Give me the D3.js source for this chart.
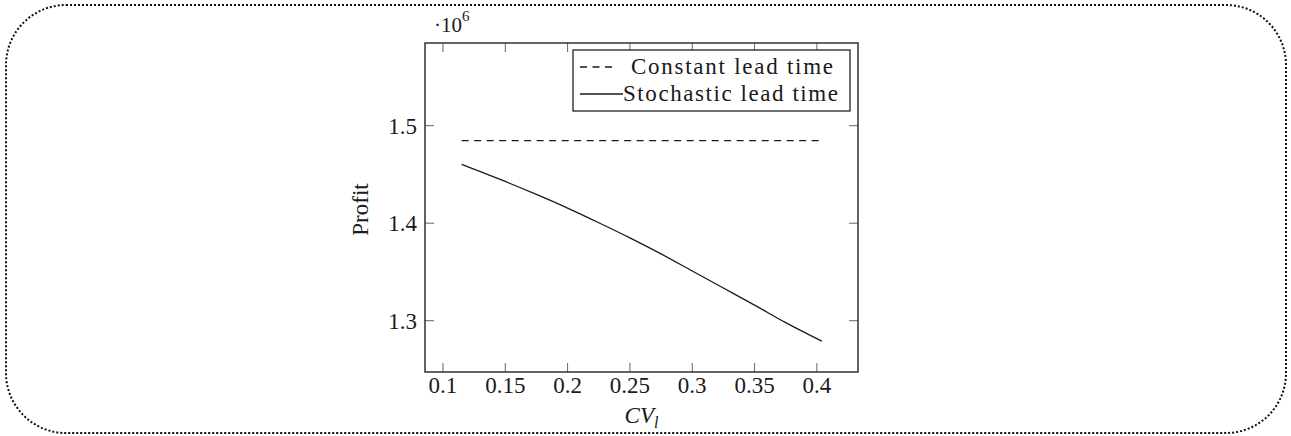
<!DOCTYPE html>
<html>
<head>
<meta charset="utf-8">
<script src="https://cdn.jsdelivr.net/npm/d3@7"></script>
<style>
  html, body { margin: 0; padding: 0; background: #fff; }
  svg { display: block; font-family: 'Liberation Serif', serif; }
</style>
</head>
<body>
<svg id="chart" width="1291" height="436" font-family="Liberation Serif, serif"></svg>
<script>
// ---- data (profit in units of 10^6) ----
const cvValues = [0.115, 0.13, 0.15, 0.175, 0.2, 0.225, 0.25, 0.275, 0.3, 0.325, 0.35, 0.375, 0.404];
const stochasticProfit = [1.4604, 1.4530, 1.4428, 1.4295, 1.4155, 1.4005, 1.3850, 1.3685, 1.3510, 1.3335, 1.3160, 1.2980, 1.2790];
const constantCV = [0.115, 0.404];
const constantProfit = [1.4846, 1.4846];
const xTicks = [0.1, 0.15, 0.2, 0.25, 0.3, 0.35, 0.4];
const xTickLabels = ["0.1", "0.15", "0.2", "0.25", "0.3", "0.35", "0.4"];
const yTicks = [1.3, 1.4, 1.5];
const yTickLabels = ["1.3", "1.4", "1.5"];
const seriesNames = ["Constant lead time", "Stochastic lead time"];

const FONT = "'Liberation Serif', serif";
const TXT = "#1a1a1a";
const svg = d3.select("#chart");

// outer dotted rounded frame
svg.append("rect")
  .attr("x", 6).attr("y", 5).attr("width", 1280).attr("height", 428)
  .attr("rx", 60).attr("ry", 60)
  .attr("fill", "none").attr("stroke", "#111")
  .attr("stroke-width", 2).attr("stroke-dasharray", "2,2");

const L = 425, R = 858, T = 43, B = 372;
const x = d3.scaleLinear().domain([0.0856, 0.433]).range([L, R]);
const y = d3.scaleLinear().domain([1.2474, 1.5848]).range([B, T]);

const tickLen = 9;
const g = svg.append("g");

function txt(sel) {
  return sel.style("font-family", FONT).attr("fill", TXT);
}

// inward ticks on all four sides
const tickColor = "#666";
xTicks.forEach(v => {
  g.append("line").attr("x1", x(v)).attr("x2", x(v)).attr("y1", B).attr("y2", B - tickLen)
    .attr("stroke", tickColor).attr("stroke-width", 1);
  g.append("line").attr("x1", x(v)).attr("x2", x(v)).attr("y1", T).attr("y2", T + tickLen)
    .attr("stroke", tickColor).attr("stroke-width", 1);
});
yTicks.forEach(v => {
  g.append("line").attr("x1", L).attr("x2", L + tickLen).attr("y1", y(v)).attr("y2", y(v))
    .attr("stroke", tickColor).attr("stroke-width", 1);
  g.append("line").attr("x1", R).attr("x2", R - tickLen).attr("y1", y(v)).attr("y2", y(v))
    .attr("stroke", tickColor).attr("stroke-width", 1);
});

// tick labels
xTicks.forEach((v, i) => {
  txt(g.append("text")).attr("x", x(v)).attr("y", 393)
    .attr("text-anchor", "middle").attr("font-size", 23)
    .text(xTickLabels[i]);
});
yTicks.forEach((v, i) => {
  txt(g.append("text")).attr("x", 417).attr("y", y(v))
    .attr("dy", "0.34em")
    .attr("text-anchor", "end").attr("font-size", 23)
    .text(yTickLabels[i]);
});

// scale factor label
const sf = txt(g.append("text")).attr("x", 434).attr("y", 32).attr("font-size", 21);
sf.append("tspan").text("·10");
sf.append("tspan").attr("font-size", 15).attr("dy", -11).text("6");

// axis titles
txt(g.append("text"))
  .attr("transform", `translate(368, ${(T + B) / 2 + 2}) rotate(-90)`)
  .attr("text-anchor", "middle").attr("font-size", 23)
  .text("Profit");
const xl = txt(g.append("text")).attr("x", (L + R) / 2).attr("y", 423)
  .attr("text-anchor", "middle").attr("font-size", 23).attr("font-style", "italic");
xl.append("tspan").text("CV");
xl.append("tspan").attr("font-size", 16).attr("dy", 5).text("l");

// series
const constData = constantCV.map((v, i) => [v, constantProfit[i]]);
const stochData = cvValues.map((v, i) => [v, stochasticProfit[i]]);
const lineLin = d3.line().x(d => x(d[0])).y(d => y(d[1]));
const lineSmooth = d3.line().x(d => x(d[0])).y(d => y(d[1])).curve(d3.curveMonotoneX);

g.append("path").datum(constData).attr("d", lineLin)
  .attr("fill", "none").attr("stroke", "#1a1a1a").attr("stroke-width", 1.3)
  .attr("stroke-dasharray", "7,5.5");
g.append("path").datum(stochData).attr("d", lineSmooth)
  .attr("fill", "none").attr("stroke", "#1a1a1a").attr("stroke-width", 1.3);

// frame
g.append("rect").attr("x", L).attr("y", T).attr("width", R - L).attr("height", B - T)
  .attr("fill", "none").attr("stroke", "#222").attr("stroke-width", 1.4);

// legend
const lg = g.append("g");
lg.append("rect").attr("x", 573).attr("y", 50).attr("width", 277).attr("height", 61)
  .attr("fill", "#fff").attr("stroke", "#222").attr("stroke-width", 1.3);
lg.append("line").attr("x1", 580).attr("x2", 615).attr("y1", 67).attr("y2", 67)
  .attr("stroke", "#1a1a1a").attr("stroke-width", 1.3).attr("stroke-dasharray", "7,5.5");
lg.append("line").attr("x1", 580).attr("x2", 623).attr("y1", 94).attr("y2", 94)
  .attr("stroke", "#1a1a1a").attr("stroke-width", 1.3);
txt(lg.append("text")).attr("x", 631).attr("y", 74).attr("font-size", 23)
  .attr("textLength", 202).attr("lengthAdjust", "spacing").text(seriesNames[0]);
txt(lg.append("text")).attr("x", 623).attr("y", 101).attr("font-size", 23)
  .attr("textLength", 215).attr("lengthAdjust", "spacing").text(seriesNames[1]);
</script>
</body>
</html>
